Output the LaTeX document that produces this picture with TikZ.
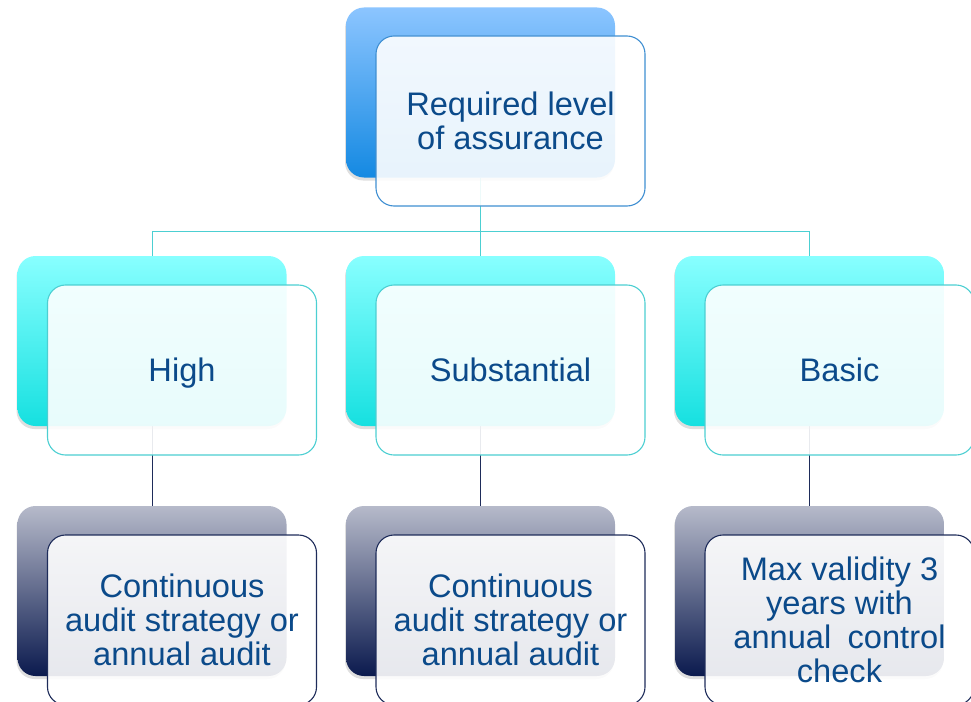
\documentclass[tikz,border=0pt]{standalone}
\usepackage{fontspec}
\setmainfont{Liberation Sans}
\usetikzlibrary{shadows,backgrounds}

\definecolor{labelblue}{HTML}{0B4A8A}
\definecolor{skytop}{HTML}{8CC5FF}
\definecolor{skybot}{HTML}{1489E2}
\definecolor{skyline}{HTML}{3F8FD2}
\definecolor{aquatop}{HTML}{88FFFF}
\definecolor{aquabot}{HTML}{16E0E0}
\definecolor{aqualine}{HTML}{4CCFD2}
\definecolor{slatetop}{HTML}{B6BACA}
\definecolor{slatebot}{HTML}{0B1A4E}
\definecolor{slateline}{HTML}{1E2C5A}

\begin{document}
\begin{tikzpicture}[x=1pt,y=-1pt,
  every node/.style={rectangle,rounded corners=18pt,minimum width=269pt,minimum height=170pt,inner sep=0pt},
  back/.style={drop shadow={shadow xshift=-1pt,shadow yshift=-3pt,opacity=0.25}},
  front/.style={draw=#1,line width=1.1pt,fill=white,fill opacity=0.9,text opacity=1,text=labelblue,align=center,font=\fontsize{32.6}{34}\selectfont}]

\useasboundingbox (0,0) rectangle (971,701);

% back tiles
\node[back,top color=skytop,bottom color=skybot](topB) at (480.5,92.5) {};
\node[back,top color=aquatop,bottom color=aquabot](highB) at (152,341) {};
\node[back,top color=aquatop,bottom color=aquabot](substB) at (480.5,341) {};
\node[back,top color=aquatop,bottom color=aquabot](basicB) at (809.5,341) {};
\node[back,top color=slatetop,bottom color=slatebot](highA) at (152,591) {};
\node[back,top color=slatetop,bottom color=slatebot](substA) at (480.5,591) {};
\node[back,top color=slatetop,bottom color=slatebot](basicA) at (809.5,591) {};

% front cards
\node[front=skyline](top) at (510.5,121) {Required level\\of assurance};
\node[front=aqualine](high) at (182,370) {\raisebox{0pt}[\height][0pt]{High}};
\node[front=aqualine](subst) at (510.5,370) {Substantial};
\node[front=aqualine](basic) at (839.5,370) {Basic};
\node[front=slateline](highaudit) at (182,620) {Continuous\\audit strategy or\\annual audit};
\node[front=slateline](substaudit) at (510.5,620) {Continuous\\audit strategy or\\annual audit};
\node[front=slateline](basicaudit) at (839.5,620) {Max validity 3\\years with\\annual\enspace control\\check};

\begin{scope}[on background layer,line width=1pt]
\coordinate(split) at (480.5,231);
\draw[aqualine](topB.south)--(split);
\draw[aqualine](split)-|(highB.north);
\draw[aqualine](split)--(substB.north);
\draw[aqualine](split)-|(basicB.north);

\draw[slateline](highB.south)--(highA.north);
\draw[slateline](substB.south)--(substA.north);
\draw[slateline](basicB.south)--(basicA.north);
\end{scope}
\end{tikzpicture}
\end{document}
